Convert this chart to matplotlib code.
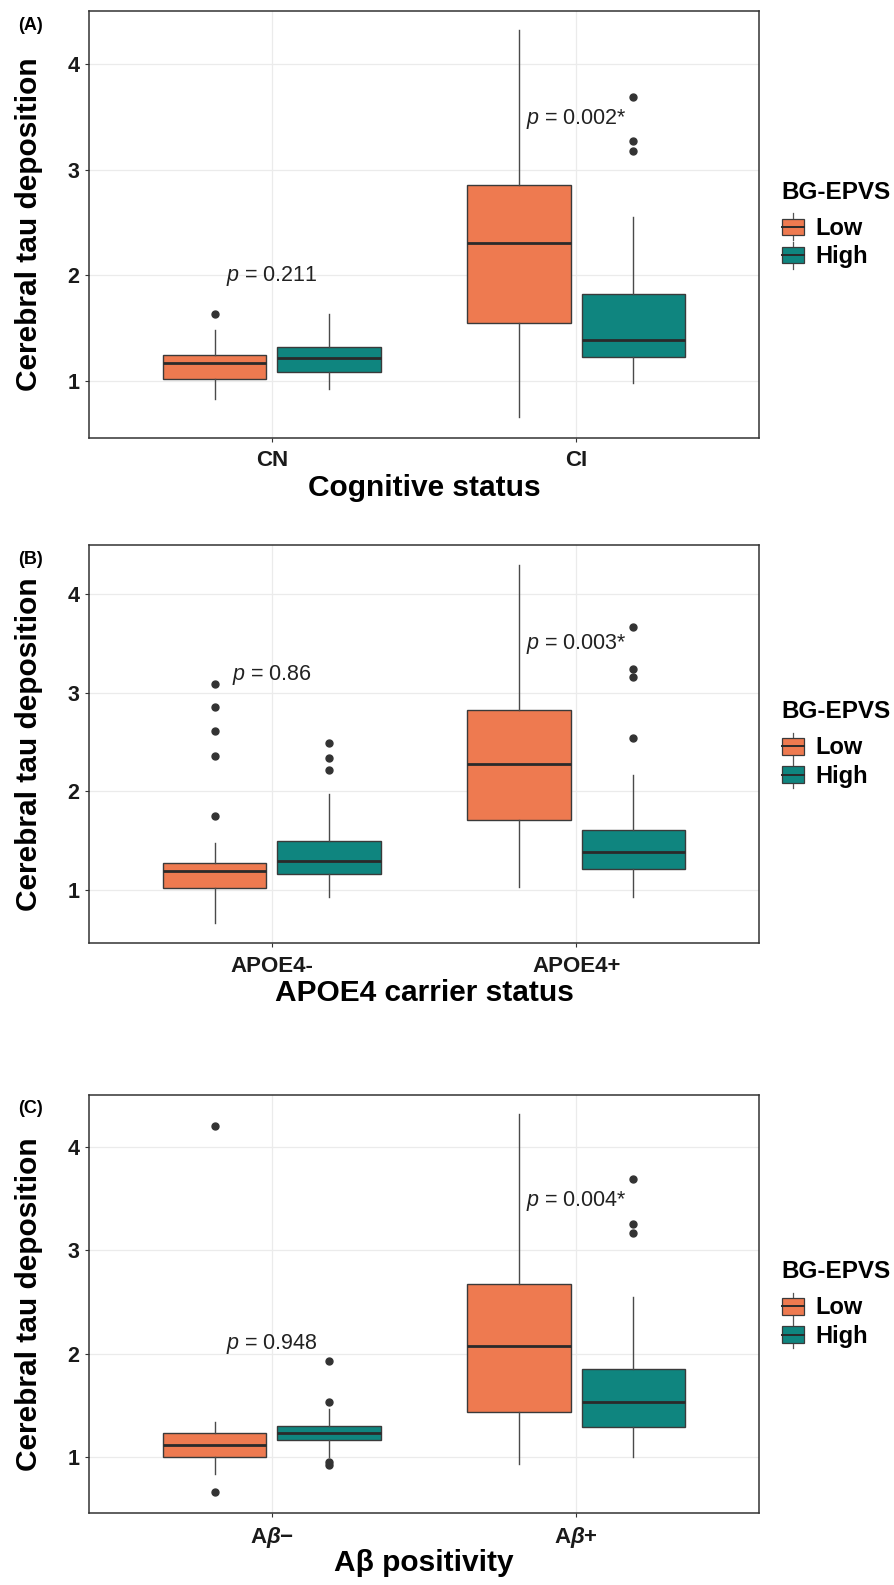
import matplotlib
matplotlib.use("Agg")
import matplotlib.pyplot as plt
from matplotlib.patches import Rectangle
from matplotlib.lines import Line2D
from matplotlib.legend_handler import HandlerBase

plt.rcParams['font.family'] = ['Liberation Sans', 'DejaVu Sans']
plt.rcParams['mathtext.fontset'] = 'custom'
plt.rcParams['mathtext.rm'] = 'Liberation Sans'
plt.rcParams['mathtext.it'] = 'Liberation Sans:italic'
plt.rcParams['mathtext.bf'] = 'Liberation Sans:bold'
plt.rcParams['mathtext.bfit'] = 'Liberation Sans:italic:bold'

# box stats per category: whislo, q1, median, q3, whishi
groups = ['Low', 'High']

cog_categories = ['CN', 'CI']
cog_low = [[0.83, 1.02, 1.17, 1.25, 1.48], [0.66, 1.55, 2.305, 2.855, 4.32]]
cog_high = [[0.92, 1.085, 1.22, 1.32, 1.63], [0.98, 1.23, 1.39, 1.82, 2.55]]
cog_low_out = [[1.63], []]
cog_high_out = [[], [3.69, 3.27, 3.18]]
cog_pvals = ['0.211', '0.002*']

apoe_categories = ['APOE4-', 'APOE4+']
apoe_low = [[0.66, 1.02, 1.195, 1.275, 1.48], [1.03, 1.71, 2.275, 2.825, 4.30]]
apoe_high = [[0.93, 1.16, 1.295, 1.50, 1.97], [0.93, 1.21, 1.38, 1.61, 2.17]]
apoe_low_out = [[3.09, 2.86, 2.61, 2.36, 1.75], []]
apoe_high_out = [[2.49, 2.34, 2.22], [3.67, 3.24, 3.16, 2.54]]
apoe_pvals = ['0.86', '0.003*']

ab_categories = [r'A$\mathbfit{\beta}$' + '\u2212', r'A$\mathbfit{\beta}$+']
ab_low = [[0.84, 1.0, 1.12, 1.234, 1.34], [0.93, 1.44, 2.07, 2.67, 4.32]]
ab_high = [[1.0, 1.17, 1.234, 1.30, 1.47], [1.0, 1.29, 1.535, 1.85, 2.55]]
ab_low_out = [[0.66, 4.20], []]
ab_high_out = [[1.93, 1.53, 0.95, 0.92], [3.69, 3.25, 3.17]]
ab_pvals = ['0.948', '0.004*']

LOW_COLOR = '#EE7A50'
HIGH_COLOR = '#0F857F'
EDGE = '#3a3a3a'
FIG_H = 1585


class BoxKeyHandler(HandlerBase):
    """Legend key that looks like a small ggplot boxplot."""

    def create_artists(self, legend, orig_handle, xdescent, ydescent,
                       width, height, fontsize, trans):
        x0, y0 = -xdescent, -ydescent
        bh = height * 0.78
        by = y0 + (height - bh) / 2
        cx = x0 + width / 2
        wl = Line2D([cx, cx], [y0 - 2, y0 + height + 2], color='#555555', lw=0.9, transform=trans)
        box = Rectangle((x0, by), width, bh, facecolor=orig_handle.get_facecolor(),
                        edgecolor=EDGE, lw=0.9, transform=trans)
        med = Line2D([x0, x0 + width], [y0 + height / 2] * 2, color='#2a2a2a', lw=1.4, transform=trans)
        return [wl, box, med]


def make_stats(rows, outs):
    return [dict(whislo=r[0], q1=r[1], med=r[2], q3=r[3], whishi=r[4], fliers=o)
            for r, o in zip(rows, outs)]


def draw_panel(ax, categories, low, high, low_out, high_out, pvals, p_y, xlabel, tag):
    pos = [1, 2]
    for stats, color, shift in [(make_stats(low, low_out), LOW_COLOR, -0.1875),
                                (make_stats(high, high_out), HIGH_COLOR, 0.1875)]:
        ax.bxp(stats, positions=[p + shift for p in pos], widths=0.34,
               patch_artist=True, showcaps=False, manage_ticks=False,
               boxprops=dict(facecolor=color, edgecolor=EDGE, linewidth=1.0),
               medianprops=dict(color='#2a2a2a', linewidth=2.0),
               whiskerprops=dict(color='#4a4a4a', linewidth=1.0),
               flierprops=dict(marker='o', markerfacecolor='#333333',
                               markeredgecolor='#333333', markersize=5))
    for p, txt, y in zip(pos, pvals, p_y):
        ax.text(p, y, '$p$ = ' + txt, ha='center', va='center', fontsize=15.5, color='#222222')

    ax.set_xlim(0.4, 2.6)
    ax.set_ylim(0.46, 4.5)
    ax.set_xticks(pos)
    ax.set_xticklabels(categories)
    ax.set_yticks([1, 2, 3, 4])
    ax.grid(True, color='#EBEBEB', lw=0.9)
    ax.set_axisbelow(True)
    for s in ax.spines.values():
        s.set_color('#333333')
        s.set_linewidth(1.1)
    ax.tick_params(axis='both', length=3, width=0.8, color='#333333', colors='#1a1a1a')
    ax.tick_params(axis='x', labelsize=16, pad=6)
    ax.tick_params(axis='y', labelsize=15.5, pad=4)
    for lab in ax.get_xticklabels() + ax.get_yticklabels():
        lab.set_fontweight('bold')

    h_px = ax.get_position().height * FIG_H
    ax.set_xlabel(xlabel, fontsize=21.5, fontweight='bold', va='center')
    ax.xaxis.set_label_coords(0.5, -50 / h_px)
    ax.set_ylabel('Cerebral tau deposition', fontsize=21.5, fontweight='bold', va='center')
    ax.yaxis.set_label_coords(-60 / 670, 0.5)

    handles = [Rectangle((0, 0), 1, 1, facecolor=LOW_COLOR), Rectangle((0, 0), 1, 1, facecolor=HIGH_COLOR)]
    leg = ax.legend(handles, groups, title='BG-EPVS', loc='center left',
                    bbox_to_anchor=(1.02, 0.5), frameon=False, alignment='left',
                    handler_map={Rectangle: BoxKeyHandler()},
                    prop=dict(size=17, weight='bold'),
                    title_fontproperties=dict(size=17.5, weight='bold'),
                    handlelength=0.95, handleheight=1.0, handletextpad=0.45,
                    labelspacing=0.2, borderaxespad=0)
    leg._legend_box.sep = 9

    top_px = (1 - ax.get_position().y1) * FIG_H
    fig = ax.figure
    fig.text(18 / 894, 1 - (top_px + 14) / FIG_H, tag, fontsize=13, fontweight='bold',
             ha='left', va='center')


fig = plt.figure(figsize=(8.94, 15.85), dpi=100)
ax_a = fig.add_axes([89 / 894, 1 - 438 / FIG_H, 670 / 894, 427 / FIG_H])
ax_b = fig.add_axes([89 / 894, 1 - 943 / FIG_H, 670 / 894, 398 / FIG_H])
ax_c = fig.add_axes([89 / 894, 1 - 1513 / FIG_H, 670 / 894, 418 / FIG_H])

draw_panel(ax_a, cog_categories, cog_low, cog_high, cog_low_out, cog_high_out,
           cog_pvals, [1.99, 3.48], 'Cognitive status', '(A)')
draw_panel(ax_b, apoe_categories, apoe_low, apoe_high, apoe_low_out, apoe_high_out,
           apoe_pvals, [3.18, 3.50], 'APOE4 carrier status', '(B)')
draw_panel(ax_c, ab_categories, ab_low, ab_high, ab_low_out, ab_high_out,
           ab_pvals, [2.09, 3.48], 'A\u03b2 positivity', '(C)')

fig.savefig('out.png', dpi=100)
